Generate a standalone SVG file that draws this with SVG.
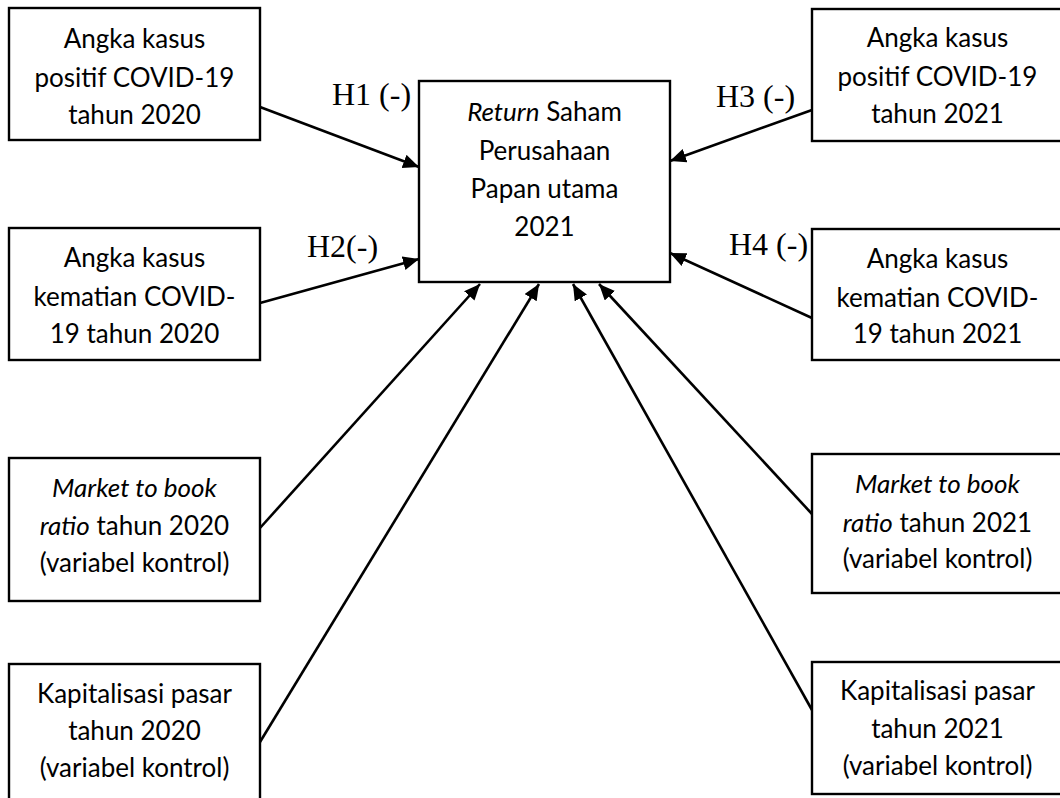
<svg xmlns="http://www.w3.org/2000/svg" width="1060" height="798" viewBox="0 0 1060 798">
<defs>
<style>
.box{fill:#fff;stroke:#000;stroke-width:2.4}
.t{font-family:Lato,"Open Sans","Liberation Sans",sans-serif;font-size:26px;fill:#000;text-anchor:middle}
.i{font-style:italic}
.h{font-family:"Liberation Serif","Times New Roman",serif;font-size:32px;fill:#000}
.c{stroke:#000;stroke-width:2.6;fill:none;marker-end:url(#ah)}
</style>
<marker id="ah" markerUnits="userSpaceOnUse" markerWidth="17" markerHeight="15" refX="16" refY="7" orient="auto">
<path d="M0,0 L16,7 L0,14 z" fill="#000"/>
</marker>
</defs>
<rect width="1060" height="798" fill="#fff"/>
<g id="connectors">
<line class="c" x1="260" y1="107" x2="419" y2="167"/>
<line class="c" x1="260" y1="303" x2="419" y2="259"/>
<line class="c" x1="812" y1="110" x2="670" y2="161"/>
<line class="c" x1="812" y1="318" x2="670" y2="253"/>
<line class="c" x1="260" y1="528" x2="480" y2="284"/>
<line class="c" x1="260" y1="742" x2="539" y2="284"/>
<line class="c" x1="812" y1="710" x2="573" y2="284"/>
<line class="c" x1="812" y1="514" x2="599" y2="284"/>
</g>
<g id="labels">
<text class="h" x="332" y="105">H1 (-)</text>
<text class="h" x="307" y="257">H2(-)</text>
<text class="h" x="716" y="107">H3 (-)</text>
<text class="h" x="729" y="255">H4 (-)</text>
</g>
<g id="center">
<rect class="box" x="419" y="81" width="251" height="201"/>
<text class="t" x="544.5" y="121"><tspan class="i">Return</tspan> Saham</text>
<text class="t" x="544.5" y="160">Perusahaan</text>
<text class="t" x="544.5" y="198">Papan utama</text>
<text class="t" x="544.5" y="236">2021</text>
</g>
<g id="l1">
<rect class="box" x="9" y="8" width="251" height="132"/>
<text class="t" x="134.5" y="48">Angka kasus</text>
<text class="t" x="134.5" y="87">positif COVID-19</text>
<text class="t" x="134.5" y="124">tahun 2020</text>
</g>
<g id="l2">
<rect class="box" x="9" y="228" width="251" height="132"/>
<text class="t" x="134.5" y="267">Angka kasus</text>
<text class="t" x="134.5" y="306">kematian COVID-</text>
<text class="t" x="134.5" y="343">19 tahun 2020</text>
</g>
<g id="l3">
<rect class="box" x="9" y="458" width="251" height="143"/>
<text class="t" x="134.5" y="497"><tspan class="i">Market to book</tspan></text>
<text class="t" x="134.5" y="535"><tspan class="i">ratio</tspan> tahun 2020</text>
<text class="t" x="134.5" y="572">(variabel kontrol)</text>
</g>
<g id="l4">
<rect class="box" x="9" y="664" width="251" height="145"/>
<text class="t" x="134.5" y="703">Kapitalisasi pasar</text>
<text class="t" x="134.5" y="740">tahun 2020</text>
<text class="t" x="134.5" y="777">(variabel kontrol)</text>
</g>
<g id="r1">
<rect class="box" x="812" y="9" width="260" height="132"/>
<text class="t" x="937.5" y="47">Angka kasus</text>
<text class="t" x="937.5" y="86">positif COVID-19</text>
<text class="t" x="937.5" y="123">tahun 2021</text>
</g>
<g id="r2">
<rect class="box" x="812" y="229" width="260" height="131"/>
<text class="t" x="937.5" y="268">Angka kasus</text>
<text class="t" x="937.5" y="307">kematian COVID-</text>
<text class="t" x="937.5" y="343">19 tahun 2021</text>
</g>
<g id="r3">
<rect class="box" x="812" y="454" width="260" height="139"/>
<text class="t" x="937.5" y="493"><tspan class="i">Market to book</tspan></text>
<text class="t" x="937.5" y="532"><tspan class="i">ratio</tspan> tahun 2021</text>
<text class="t" x="937.5" y="568">(variabel kontrol)</text>
</g>
<g id="r4">
<rect class="box" x="812" y="662" width="260" height="132"/>
<text class="t" x="937.5" y="700">Kapitalisasi pasar</text>
<text class="t" x="937.5" y="738">tahun 2021</text>
<text class="t" x="937.5" y="775">(variabel kontrol)</text>
</g>
</svg>
